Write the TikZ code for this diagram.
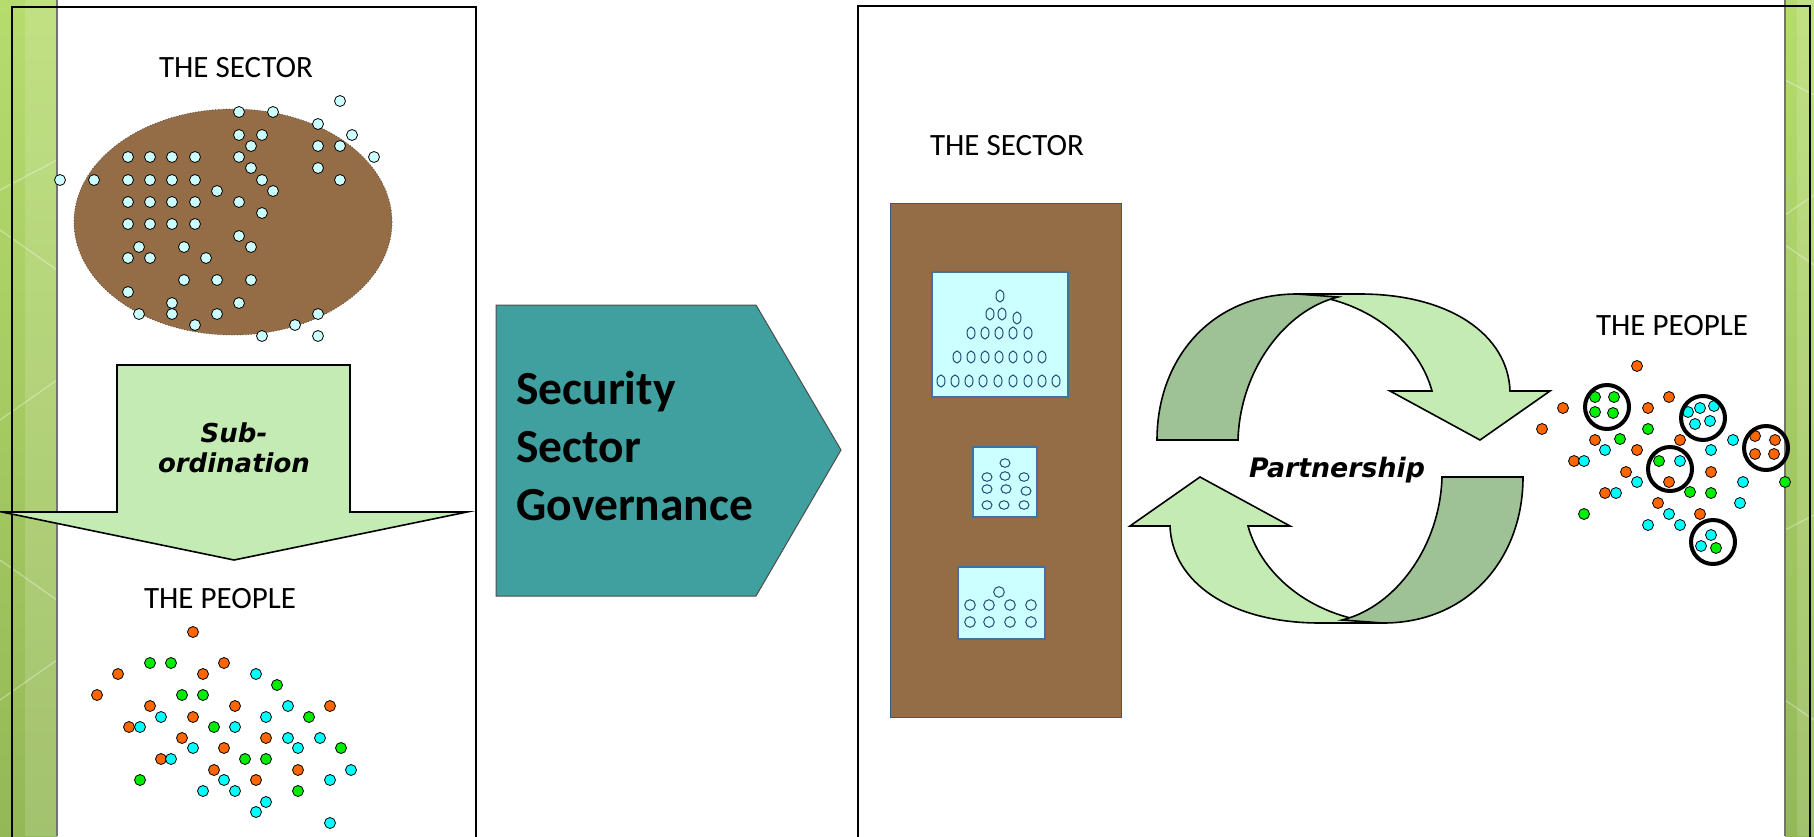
\documentclass[tikz,border=0pt]{standalone}
\usepackage{fontspec}
\setmainfont{Carlito}
\newfontfamily\verdfont{DejaVu Sans}
\usepackage{tikz}
\definecolor{sectorbrown}{HTML}{946C45}
\definecolor{icecyan}{HTML}{CCFFFF}
\definecolor{ssgteal}{HTML}{40A0A0}
\definecolor{paleleaf}{HTML}{C5EBB5}
\definecolor{darkleaf}{HTML}{9EC196}
\definecolor{pplorange}{HTML}{FF6600}
\definecolor{pplgreen}{HTML}{00EE00}
\definecolor{pplcyan}{HTML}{00FFFF}
\definecolor{boxline}{HTML}{41719C}
\definecolor{tokenline}{HTML}{1F4E79}
\definecolor{striptop}{HTML}{B6DC6E}
\definecolor{stripbottom}{HTML}{94B856}
\tikzset{
  panel/.style={draw=black, line width=1pt},
  heading/.style={font=\fontsize{15.5}{18}\selectfont, inner sep=0pt},
  leafarrow/.style={fill=paleleaf, draw=black, line width=0.8pt},
  lightband/.style={fill=paleleaf, draw=black, line width=0.8pt},
  darkband/.style={fill=darkleaf, draw=black, line width=0.8pt},
  sdot/.style={fill=icecyan, draw=black, line width=0.4pt},
  pdot/.style={draw=black, line width=0.4pt},
  token/.style={draw=tokenline, line width=0.5pt},
  cell/.style={fill=icecyan, draw=boxline, line width=0.6pt},
  ring/.style={draw=black, line width=2pt},
  strip/.style={top color=striptop, bottom color=stripbottom}
}
\newcommand{\twistarrow}{%
  \draw[lightband] (1297,294) -- (1360,294) .. controls (1450,294) and (1508,335) .. (1510,391)
    -- (1550,391) -- (1480,440) -- (1390,391) -- (1432,391)
    .. controls (1418,340) and (1365,298) .. (1297,294) -- cycle;
  \draw[darkband] (1157,440) .. controls (1157,358) and (1212,294) .. (1297,294) -- (1338,297)
    .. controls (1285,310) and (1240,370) .. (1238,440) -- cycle;
}

\begin{document}
\begin{tikzpicture}[x=0.5pt, y=-0.5pt]
  \useasboundingbox (0,0) rectangle (1814,836);
  % side strips
  \shade[strip] (0,0) rectangle (57,836);
  \fill[white, opacity=0.15] (25,0) rectangle (57,836);
  \shade[strip] (1785,0) rectangle (1814,836);
  \fill[white, opacity=0.15] (1797,0) rectangle (1814,836);
  \foreach \ya/\yb in {190/160, 230/270, 420/380, 560/600, 700/660} {
    \draw[white, opacity=0.35, line width=0.6pt] (0,\ya) -- (57,\yb);
  }
  \foreach \ya/\yb in {80/95, 215/195, 245/265, 530/515, 700/720} {
    \draw[white, opacity=0.35, line width=0.6pt] (1785,\ya) -- (1814,\yb);
  }
  \draw[black!55, line width=0.8pt] (57,0) -- (57,836);
  \draw[black!55, line width=0.8pt] (1785,0) -- (1785,836);

  % panels
  \draw[panel] (12,850) |- (476,7) -- (476,850);
  \draw[panel] (858,850) |- (1810,6) -- (1810,850);

  % left side: the sector
  \node[heading, anchor=base] (sectorL) at (236,77) {THE SECTOR};
  \filldraw[fill=sectorbrown, draw=black!70, line width=0.4pt, densely dotted] (233,222) ellipse (79.5pt and 56.5pt);
  \foreach \x/\y in {340/101, 239/112, 273/112, 318/124, 239/135, 262/135, 352/135,
      251/146, 318/146, 340/146, 128/157, 150/157, 172/157, 195/157, 239/157, 374/157,
      251/168, 318/168, 60/180, 94/180, 128/180, 150/180, 172/180, 195/180, 262/180,
      340/180, 217/191, 273/191, 128/202, 150/202, 172/202, 195/202, 239/202, 262/213,
      128/224, 150/224, 172/224, 195/224, 239/236, 139/247, 184/247, 251/247, 128/258,
      150/258, 206/258, 184/280, 217/280, 251/280, 128/292, 172/303, 239/303, 139/314,
      172/314, 217/314, 318/314, 195/325, 295/325, 262/336, 318/336} {
    \filldraw[sdot] (\x,\y) circle (2.75pt);
  }

  % subordination arrow
  \draw[leafarrow] (117,365) -- (350,365) -- (350,512) -- (467,512) -- (234,560)
    -- (2,512) -- (117,512) -- cycle;
  \node[align=center, inner sep=0pt, font=\verdfont\bfseries\itshape\fontsize{13}{15}\selectfont]
    (subord) at (234,448) {Sub-\\ordination};

  % left side: the people
  \node[heading, anchor=base] (peopleL) at (220,608) {THE PEOPLE};
  \foreach \x/\y in {193/632, 224/663, 118/674, 203/674, 97/695, 150/706, 235/706, 330/706,
      193/717, 129/727, 182/738, 266/738, 224/748, 161/759, 214/770, 298/770, 256/780} {
    \filldraw[pdot, fill=pplorange] (\x,\y) circle (2.75pt);
  }
  \foreach \x/\y in {150/663, 171/663, 277/685, 182/695, 203/695, 309/717, 214/727, 341/748,
      245/759, 266/759, 140/780, 298/791} {
    \filldraw[pdot, fill=pplgreen] (\x,\y) circle (2.75pt);
  }
  \foreach \x/\y in {256/674, 288/706, 161/717, 266/717, 140/727, 235/727, 288/738, 320/738,
      193/748, 298/748, 171/759, 351/770, 224/780, 330/780, 203/791, 235/791, 266/802,
      256/812, 330/823} {
    \filldraw[pdot, fill=pplcyan] (\x,\y) circle (2.75pt);
  }

  % security sector governance
  \draw[fill=ssgteal, draw=black!70, line width=0.5pt] (496,305) -- (756,305) -- (841,450)
    -- (756,596) -- (496,596) -- cycle;
  \node[align=left, anchor=base west, inner sep=0pt, font=\bfseries\fontsize{23.75}{29}\selectfont]
    (ssg) at (516,520) {Security\\Sector\\Governance};

  % right side: the sector
  \node[heading, anchor=base] (sectorR) at (1007,155) {THE SECTOR};
  \filldraw[fill=sectorbrown, draw=boxline!80!black, line width=0.5pt] (890,203) rectangle (1121,717);
  \filldraw[cell] (932,272) rectangle (1068,397);
  \foreach \x/\y in {1000/296, 990/314, 1002/314, 1017/318,
      971/333, 985/333, 999/333, 1013/333, 1028/333,
      957/357, 971/357, 985/357, 999/357, 1013/357, 1028/357, 1042/357,
      941/381, 955/381, 969/381, 983/381, 998/381, 1013/381, 1028/381, 1042/381, 1056/381} {
    \draw[token] (\x,\y) ellipse (2pt and 3pt);
  }
  \filldraw[cell] (973,447) rectangle (1037,517);
  \foreach \x/\y in {1005/463, 987/477, 1005/476, 1024/477, 987/489, 1006/489, 1026/491,
      987/505, 1004/505, 1024/505} {
    \draw[token] (\x,\y) ellipse (2.5pt and 2.15pt);
  }
  \filldraw[cell] (958,567) rectangle (1045,639);
  \foreach \x/\y in {999/592, 970/605, 989/605, 1010/605, 1031/605,
      970/622, 989/622, 1010/622, 1031/622} {
    \draw[token] (\x,\y) circle (2.65pt);
  }

  % partnership cycle
  \twistarrow
  \begin{scope}[rotate around={180:(1340,458.5)}]
    \twistarrow
  \end{scope}
  \node[anchor=base, inner sep=0pt, font=\verdfont\bfseries\itshape\fontsize{13.4}{15}\selectfont]
    (partner) at (1337,477) {Partnership};

  % right side: the people
  \node[heading, anchor=base] (peopleR) at (1672,335) {THE PEOPLE};
  \foreach \x/\y in {1637/366, 1563/408, 1542/429, 1669/397, 1648/408, 1595/440, 1680/440,
      1637/450, 1574/461, 1626/472, 1711/472, 1605/493, 1658/503, 1700/514,
      1755/436, 1775/440, 1755/454, 1774/454, 1669/482} {
    \filldraw[pdot, fill=pplorange] (\x,\y) circle (2.75pt);
  }
  \foreach \x/\y in {1648/429, 1620/439, 1785/482, 1690/492, 1711/493, 1584/514,
      1595/397, 1614/397, 1595/412, 1613/413, 1659/461} {
    \filldraw[pdot, fill=pplgreen] (\x,\y) circle (2.75pt);
  }
  \foreach \x/\y in {1733/440, 1605/450, 1711/450, 1584/461, 1637/482, 1743/482, 1616/493,
      1740/503, 1669/514, 1648/525, 1680/525, 1688/412, 1700/408, 1714/406, 1695/424,
      1710/421, 1680/461, 1711/535, 1701/546} {
    \filldraw[pdot, fill=pplcyan] (\x,\y) circle (2.75pt);
  }
  \filldraw[pdot, fill=pplgreen] (1716,548) circle (2.75pt);
  \foreach \x/\y in {1607/407, 1703/418, 1766/448, 1670/469, 1713/542} {
    \draw[ring] (\x,\y) circle (11pt);
  }
\end{tikzpicture}
\end{document}
